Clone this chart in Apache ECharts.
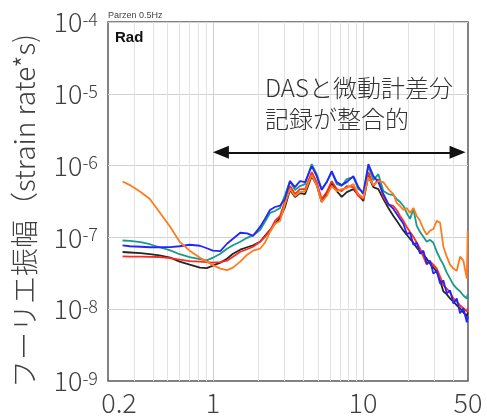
<!DOCTYPE html>
<html><head><meta charset="utf-8">
<script src="https://cdn.jsdelivr.net/npm/echarts@6/dist/echarts.min.js"></script>
<style>html,body{margin:0;padding:0;background:#fff}#c{width:487px;height:416px}</style>
</head><body><div id="c"></div>
<script>
// frequency (Hz)
const freq = [0.25,0.28,0.33,0.38,0.44,0.52,0.60,0.70,0.82,0.91,
  1.00,1.12,1.24,1.36,1.52,1.69,1.85,2.06,2.22,2.40,
  2.59,2.80,3.02,3.26,3.52,3.80,4.11,4.55,4.91,5.30,
  5.73,6.18,6.68,7.21,7.79,8.62,9.30,10.04,10.85,11.71,
  12.64,13.65,14.74,15.92,16.76,17.64,18.56,19.54,20.56,21.64,
  22.78,23.97,25.22,26.56,27.94,29.38,30.97,32.58,34.28,36.1,
  37.98,39.96,42.1,44.28,46.58,49.1,49.8];

const orangeAmp = [6.0e-7,5.35e-7,4.28e-7,3.42e-7,2.26e-7,1.40e-7,8.69e-8,6.53e-8,5.22e-8,4.60e-8,
  4.11e-8,3.68e-8,3.50e-8,3.80e-8,4.60e-8,5.74e-8,6.53e-8,6.96e-8,8.42e-8,1.19e-7,
  1.55e-7,1.70e-7,2.92e-7,4.71e-7,3.77e-7,4.28e-7,4.42e-7,7.37e-7,5.35e-7,3.11e-7,
  3.77e-7,5.19e-7,4.42e-7,4.71e-7,4.86e-7,5.53e-7,4.02e-7,3.54e-7,6.90e-7,5.35e-7,
  6.08e-7,5.89e-7,4.71e-7,4.02e-7,3.02e-7,2.74e-7,2.41e-7,2.57e-7,2.19e-7,2.57e-7,
  1.99e-7,1.70e-7,1.31e-7,1.09e-7,1.24e-7,1.31e-7,1.70e-7,1.60e-7,7.41e-8,5.39e-8,
  4.18e-8,3.68e-8,3.44e-8,5.39e-8,4.74e-8,2.67e-8,1.24e-7];

const blueAmp = [7.73e-8,7.53e-8,7.41e-8,7.29e-8,7.29e-8,7.33e-8,7.53e-8,7.90e-8,7.65e-8,7.06e-8,
  6.53e-8,6.42e-8,8.16e-8,9.56e-8,1.16e-7,1.14e-7,1.05e-7,1.40e-7,1.81e-7,2.41e-7,
  2.65e-7,2.78e-7,3.42e-7,6.08e-7,5.02e-7,6.08e-7,5.89e-7,9.81e-7,7.13e-7,4.57e-7,
  5.89e-7,8.37e-7,5.89e-7,5.35e-7,5.89e-7,7.13e-7,5.02e-7,4.02e-7,1.05e-6,7.13e-7,
  5.89e-7,4.02e-7,2.92e-7,2.49e-7,2.12e-7,1.81e-7,1.55e-7,1.12e-7,1.16e-7,7.90e-8,
  8.42e-8,5.93e-8,6.53e-8,4.31e-8,4.74e-8,3.13e-8,3.44e-8,2.28e-8,2.51e-8,1.66e-8,
  1.82e-8,1.20e-8,1.41e-8,8.75e-9,1.03e-8,6.57e-9,7.95e-9];

const tealAmp = [9.06e-8,8.97e-8,8.61e-8,8.03e-8,7.29e-8,6.59e-8,5.83e-8,5.31e-8,4.97e-8,4.79e-8,
  5.22e-8,5.93e-8,6.96e-8,7.78e-8,8.69e-8,9.87e-8,1.07e-7,1.27e-7,1.65e-7,2.19e-7,
  2.33e-7,2.57e-7,3.89e-7,6.08e-7,4.57e-7,5.19e-7,5.53e-7,1.05e-6,7.60e-7,4.71e-7,
  5.89e-7,8.10e-7,5.53e-7,5.23e-7,6.48e-7,6.90e-7,4.71e-7,4.28e-7,9.81e-7,6.28e-7,
  7.60e-7,4.42e-7,4.02e-7,3.89e-7,3.42e-7,3.11e-7,2.74e-7,2.19e-7,1.81e-7,2.49e-7,
  1.45e-7,1.19e-7,1.02e-7,8.69e-8,9.26e-8,8.42e-8,6.31e-8,5.05e-8,4.18e-8,3.23e-8,
  2.67e-8,2.20e-8,1.94e-8,1.77e-8,1.55e-8,1.41e-8,1.61e-8];

const blackAmp = [6.26e-8,6.16e-8,6.02e-8,5.83e-8,5.61e-8,5.22e-8,4.60e-8,4.18e-8,3.80e-8,3.73e-8,
  4.04e-8,4.45e-8,5.05e-8,5.93e-8,6.74e-8,7.29e-8,7.78e-8,8.69e-8,1.05e-7,1.27e-7,
  1.55e-7,1.87e-7,2.65e-7,4.57e-7,3.66e-7,4.15e-7,4.02e-7,7.13e-7,5.35e-7,3.11e-7,
  4.02e-7,5.71e-7,4.42e-7,3.66e-7,4.28e-7,4.71e-7,3.89e-7,3.21e-7,7.13e-7,5.02e-7,
  4.71e-7,3.42e-7,2.57e-7,1.99e-7,1.70e-7,1.45e-7,1.24e-7,1.09e-7,9.56e-8,8.42e-8,
  7.18e-8,6.31e-8,5.74e-8,5.05e-8,4.31e-8,3.80e-8,3.34e-8,2.51e-8,1.77e-8,1.61e-8,
  1.41e-8,1.28e-8,1.13e-8,1.03e-8,9.03e-9,7.95e-9,9.03e-9];

const redAmp = [5.44e-8,5.39e-8,5.39e-8,5.35e-8,5.33e-8,5.13e-8,4.89e-8,4.67e-8,4.60e-8,4.52e-8,
  4.45e-8,4.52e-8,4.74e-8,5.39e-8,6.31e-8,6.84e-8,7.41e-8,8.69e-8,1.02e-7,1.24e-7,
  1.70e-7,1.99e-7,3.21e-7,5.19e-7,4.02e-7,4.71e-7,4.71e-7,8.10e-7,5.89e-7,3.42e-7,
  4.28e-7,6.08e-7,4.71e-7,4.42e-7,5.19e-7,5.02e-7,3.77e-7,3.42e-7,8.10e-7,5.19e-7,
  6.48e-7,3.66e-7,2.85e-7,2.74e-7,2.41e-7,1.99e-7,1.70e-7,1.40e-7,1.19e-7,1.02e-7,
  8.42e-8,6.96e-8,5.39e-8,4.18e-8,4.60e-8,4.18e-8,3.68e-8,2.85e-8,2.15e-8,1.94e-8,
  1.71e-8,1.41e-8,1.28e-8,1.13e-8,1.03e-8,9.32e-9,1.03e-8];

const xTickLabels = ['0.2','1','10','50'];
const yRange = [1e-9, 1e-4];
const xRange = [0.2, 50];
const arrowLevel = 1.53e-6;
const arrowRange = [1.13, 42.6];   // arrowhead centres; tips reach 1 and ~48 Hz
const annotation = 'DASと微動計差分\n記録が整合的';
const yTitle = 'フーリエ振幅（strain rate*s)';

const FONT = "'Noto Sans CJK JP','Noto Sans',sans-serif";
const TXT = '#404040';

const xMinor = [], yMinor = [];
for (let d = -1; d <= 1; d++) for (let k = 2; k <= 9; k++) {
  const v = k * Math.pow(10, d);
  if (v > xRange[0] * 1.001 && v < xRange[1] * 0.999) xMinor.push(+v.toPrecision(3));
}
for (let d = -9; d <= -5; d++) for (let k = 2; k <= 9; k++) yMinor.push(k * Math.pow(10, d));

function mk(name, vals, color, extra) {
  return Object.assign({
    name, type: 'line', data: freq.map((f, i) => [f, vals[i]]),
    showSymbol: false, symbol: 'none', clip: true, animation: false, z: 3,
    lineStyle: { color, width: 1.8 }, itemStyle: { color }
  }, extra || {});
}

const chart = echarts.init(document.getElementById('c'), null, { renderer: 'canvas' });
chart.setOption({
  backgroundColor: '#fff',
  animation: false,
  grid: { left: 108, right: 19, top: 22, bottom: 33, show: true, borderColor: '#595959', borderWidth: 1.5, backgroundColor: 'transparent' },
  xAxis: {
    type: 'log', logBase: 10, min: xRange[0], max: xRange[1],
    axisLine: { show: false }, axisTick: { show: false },
    splitLine: { show: true, showMinLine: false, showMaxLine: false, lineStyle: { color: '#d2d2d2', width: 1 } },
    axisLabel: {
      margin: 8, color: TXT, fontSize: 27, fontFamily: FONT, fontWeight: 300,
      showMinLabel: true, showMaxLabel: true,
      formatter: v => {
        const s = xTickLabels.find(t => Math.abs(Math.log10(parseFloat(t)) - Math.log10(v)) < 0.01);
        if (s === undefined) return '';
        return s === xTickLabels[0] ? '{m|' + s + '}' : s;
      },
      rich: { m: { fontSize: 27, fontFamily: FONT, fontWeight: 300, color: TXT, padding: [0, 0, 0, 22] } }
    }
  },
  yAxis: {
    type: 'log', logBase: 10, min: yRange[0], max: yRange[1],
    axisLine: { show: false }, axisTick: { show: false },
    splitLine: { show: true, showMinLine: false, showMaxLine: false, lineStyle: { color: '#d2d2d2', width: 1 } },
    axisLabel: {
      margin: 10, color: TXT, fontFamily: FONT,
      formatter: v => '{b|10}{s|' + Math.round(Math.log10(v)) + '}',
      rich: {
        b: { fontSize: 27, fontFamily: FONT, fontWeight: 300, color: TXT },
        s: { fontSize: 18, fontFamily: FONT, fontWeight: 300, color: TXT, padding: [0, 0, 6, 0] }
      }
    }
  },
  series: [
    mk('black', blackAmp, '#262626', {
      markLine: {
        silent: true, symbol: 'none', z: 1, animation: false,
        label: { show: false },
        lineStyle: { color: '#e2e2e2', width: 1, type: 'solid' },
        emphasis: { disabled: true },
        data: xMinor.map(v => ({ xAxis: v })).concat(yMinor.map(v => ({ yAxis: v })))
      }
    }),
    mk('red', redAmp, '#ff2a1f'),
    mk('teal', tealAmp, '#169a8c'),
    mk('blue', blueAmp, '#2424ff'),
    mk('orange', orangeAmp, '#ff7b1c', {
      markLine: {
        silent: true, z: 6, animation: false,
        symbol: ['triangle', 'triangle'], symbolSize: [13, 16],
        label: { show: false },
        lineStyle: { color: '#111', width: 2, type: 'solid' },
        emphasis: { disabled: true },
        data: [[{ coord: [arrowRange[0], arrowLevel] }, { coord: [arrowRange[1], arrowLevel] }]]
      }
    })
  ],
  graphic: [
    { type: 'text', left: 108, top: 11, silent: true,
      style: { text: 'Parzen 0.5Hz', font: "9px 'Liberation Sans', sans-serif", fill: '#444' } },
    { type: 'text', left: 115, top: 30, silent: true, z: 10,
      style: { text: 'Rad', font: "bold 15px 'Liberation Sans', sans-serif", fill: '#111' } },
    { type: 'text', left: 265, top: 72, silent: true, z: 10,
      style: { text: annotation, font: "300 24px " + FONT, fill: '#333', lineHeight: 31 } },
    { type: 'text', x: 24, y: 211, rotation: Math.PI / 2, silent: true,
      style: { text: yTitle, font: "300 28px " + FONT, fill: TXT, align: 'center', verticalAlign: 'middle' } }
  ]
});
</script></body></html>
